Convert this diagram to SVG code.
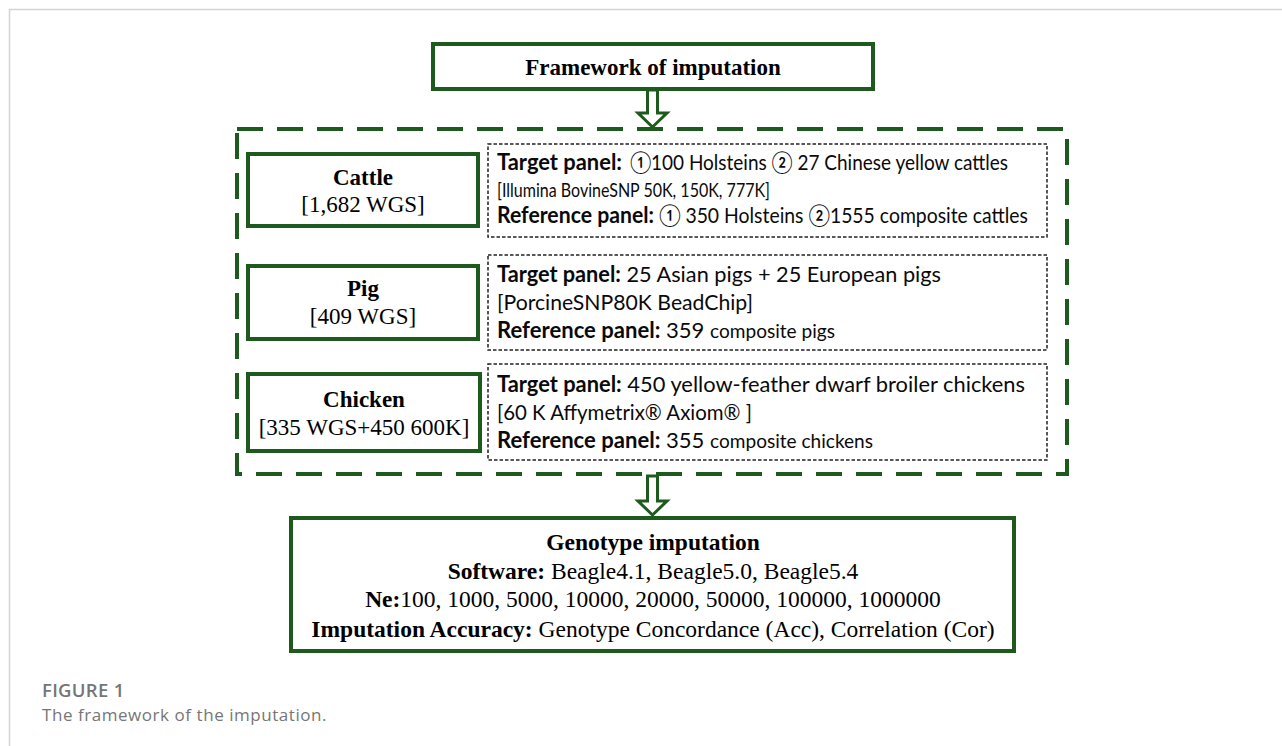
<svg xmlns="http://www.w3.org/2000/svg" width="1282" height="746" viewBox="0 0 1282 746">
  <style>
    .box { fill: #ffffff; stroke: #1e5a1e; stroke-width: 4; }
    .group { fill: none; stroke: #1e5a1e; stroke-width: 4; stroke-dasharray: 26 14; }
    .panel { fill: #ffffff; stroke: #222222; stroke-width: 1.5; stroke-dasharray: 3.5 2; }
    .arrow { fill: #ffffff; stroke: #1e5a1e; stroke-width: 3; stroke-linejoin: miter; }
    .serif { font-family: "Liberation Serif", "Times New Roman", serif; font-size: 23px; fill: #000000; }
    .big { font-size: 23.5px; }
    .sans { font-family: Lato, "DejaVu Sans", sans-serif; font-size: 22px; fill: #0a0a0a; }
    .b { font-weight: bold; }
    .sm { font-size: 19px; }
    .md { font-size: 21px; }
    .cap { font-family: "Open Sans", "Noto Sans", sans-serif; fill: #767676; }
  </style>

  <!-- page frame -->
  <path d="M9.5 746 V9.5 H1282" fill="none" stroke="#d4d4d4" stroke-width="1.5"/>

  <!-- title -->
  <g id="title">
    <rect class="box" x="433" y="44" width="440" height="45"/>
    <text class="serif b" x="653" y="75" text-anchor="middle">Framework of imputation</text>
  </g>

  <!-- dashed species group -->
  <g id="species-group">
    <rect class="group" x="237" y="129" width="830" height="345"/>
  </g>

  <g id="cattle">
    <rect class="box" x="248" y="154" width="230" height="72"/>
    <text class="serif b" x="363" y="185" text-anchor="middle">Cattle</text>
    <text class="serif" x="363" y="212" text-anchor="middle">[1,682 WGS]</text>
  </g>
  <g id="cattle-panels">
    <rect class="panel" x="488" y="144" width="559" height="93"/>
    <text class="sans b" x="497" y="170" textLength="125" lengthAdjust="spacingAndGlyphs">Target panel:</text>
    <text class="sans" x="630" y="170" textLength="378" lengthAdjust="spacingAndGlyphs">①100 Holsteins ② 27 Chinese yellow cattles</text>
    <text class="sans sm" x="497" y="197" textLength="273" lengthAdjust="spacingAndGlyphs">[Illumina BovineSNP 50K, 150K, 777K]</text>
    <text class="sans b" x="497" y="223" textLength="157" lengthAdjust="spacingAndGlyphs">Reference panel:</text>
    <text class="sans" x="659" y="223" textLength="369" lengthAdjust="spacingAndGlyphs">① 350 Holsteins ②1555 composite cattles</text>
  </g>

  <g id="pig">
    <rect class="box" x="248" y="266" width="230" height="73"/>
    <text class="serif b" x="363" y="296" text-anchor="middle">Pig</text>
    <text class="serif" x="363" y="324" text-anchor="middle">[409 WGS]</text>
  </g>
  <g id="pig-panels">
    <rect class="panel" x="488" y="255" width="559" height="95"/>
    <text class="sans" x="497" y="282" textLength="444" lengthAdjust="spacingAndGlyphs"><tspan class="b">Target panel:</tspan> 25 Asian pigs + 25 European pigs</text>
    <text class="sans md" x="497" y="310" textLength="256" lengthAdjust="spacingAndGlyphs">[PorcineSNP80K BeadChip]</text>
    <text class="sans" x="497" y="338" textLength="338" lengthAdjust="spacingAndGlyphs"><tspan class="b">Reference panel:</tspan> 359 <tspan class="sm">composite pigs</tspan></text>
  </g>

  <g id="chicken">
    <rect class="box" x="248" y="374" width="232" height="77"/>
    <text class="serif b" x="364" y="407" text-anchor="middle">Chicken</text>
    <text class="serif" x="364" y="435" text-anchor="middle">[335 WGS+450 600K]</text>
  </g>
  <g id="chicken-panels">
    <rect class="panel" x="488" y="364" width="559" height="96"/>
    <text class="sans" x="497" y="392" textLength="528" lengthAdjust="spacingAndGlyphs"><tspan class="b">Target panel:</tspan> 450 yellow-feather dwarf broiler chickens</text>
    <text class="sans md" x="497" y="420" textLength="255" lengthAdjust="spacingAndGlyphs">[60 K Affymetrix® Axiom® ]</text>
    <text class="sans" x="497" y="448" textLength="376" lengthAdjust="spacingAndGlyphs"><tspan class="b">Reference panel:</tspan> 355 <tspan class="sm">composite chickens</tspan></text>
  </g>

  <g id="genotype-imputation">
    <rect class="box" x="291" y="518" width="723" height="133"/>
    <text class="serif big b" x="653" y="550" text-anchor="middle">Genotype imputation</text>
    <text class="serif big" x="653" y="579" text-anchor="middle"><tspan class="b">Software:</tspan> Beagle4.1, Beagle5.0, Beagle5.4</text>
    <text class="serif big" x="653" y="607" text-anchor="middle"><tspan class="b">Ne:</tspan>100, 1000, 5000, 10000, 20000, 50000, 100000, 1000000</text>
    <text class="serif big" x="653" y="637" text-anchor="middle"><tspan class="b">Imputation Accuracy:</tspan> Genotype Concordance (Acc), Correlation (Cor)</text>
  </g>

  <!-- hollow block arrows -->
  <g id="connectors">
    <polygon class="arrow" points="647.5,90 657.5,90 657.5,113 667,113 652.5,127 638,113 647.5,113"/>
    <polygon class="arrow" points="647.5,476 657.5,476 657.5,501 667,501 652.5,515 638,501 647.5,501"/>
  </g>

  <!-- caption -->
  <text class="cap" x="42" y="697" font-size="18.5" font-weight="600" letter-spacing="0.3">FIGURE 1</text>
  <text class="cap" x="42" y="721" font-size="17" letter-spacing="0.55">The framework of the imputation.</text>
</svg>
